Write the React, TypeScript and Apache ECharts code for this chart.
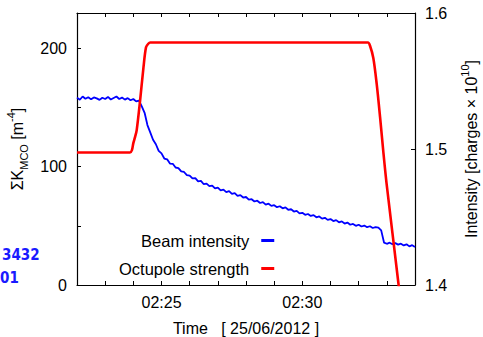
import React, { useEffect, useRef } from "react";
import * as echarts from "echarts";

// time axis in minutes after midnight (02:22 = 142)
const timeMin = 142;
const timeMax = 154;
const timeTickLabels = [145, 150];

// Octupole strength ΣK_MCO [m^-4] : [minutes, value]
const octupoleTimes = [142.0, 143.88, 143.95, 144.0, 144.06, 144.12, 144.24, 144.36, 144.45, 144.53, 144.6, 152.33, 152.4, 152.52, 152.64, 152.76, 152.87, 152.99, 153.41, 153.5];
const octupoleValues = [112, 112, 114, 120, 125, 131, 156, 184, 201, 204, 205, 205, 202.5, 192, 170, 142, 114, 86, 1.7, -19];

// Beam intensity [charges × 1e10], sampled every 0.1 min from 02:22
const beamStart = 142.0;
const beamStep = 0.1;
const beamValues = [
  1.5378, 1.5362, 1.5386, 1.5369, 1.5381, 1.5365, 1.5379, 1.5372, 1.5361, 1.5377,
  1.5368, 1.5383, 1.5364, 1.5375, 1.5386, 1.5368, 1.5378, 1.5363, 1.5374, 1.5358,
  1.5368, 1.5350, 1.5356, 1.5314, 1.5266, 1.5176, 1.5122, 1.5068, 1.5035, 1.4986,
  1.4968, 1.4930, 1.4924, 1.4893, 1.4891, 1.4864, 1.4860, 1.4836, 1.4831, 1.4808,
  1.4805, 1.4784, 1.4786, 1.4762, 1.4765, 1.4741, 1.4746, 1.4727, 1.4731, 1.4710,
  1.4716, 1.4696, 1.4701, 1.4683, 1.4690, 1.4670, 1.4675, 1.4655, 1.4661, 1.4643,
  1.4647, 1.4628, 1.4631, 1.4614, 1.4620, 1.4603, 1.4609, 1.4591, 1.4598, 1.4582,
  1.4587, 1.4572, 1.4579, 1.4564, 1.4571, 1.4553, 1.4557, 1.4540, 1.4545, 1.4527,
  1.4531, 1.4516, 1.4522, 1.4508, 1.4514, 1.4498, 1.4504, 1.4488, 1.4494, 1.4479,
  1.4485, 1.4470, 1.4477, 1.4461, 1.4468, 1.4452, 1.4459, 1.4443, 1.4449, 1.4435,
  1.4443, 1.4430, 1.4437, 1.4425, 1.4432, 1.4419, 1.4426, 1.4422, 1.4402, 1.4312,
  1.4303, 1.4311, 1.4300, 1.4308, 1.4297, 1.4304, 1.4291, 1.4299, 1.4284, 1.4293,
  1.4280,
];

const seriesNames = ["Beam intensity", "Octupole strength"];
const sideLabels = ["3432", "01"];

const FONT = "'Liberation Sans', Arial, Helvetica, sans-serif";

function fmtTime(v: number): string {
  const h = Math.floor(v / 60);
  const m = Math.round(v - h * 60);
  return String(h).padStart(2, "0") + ":" + String(m).padStart(2, "0");
}

export default function App() {
  const ref = useRef<HTMLDivElement>(null);
  useEffect(() => {
    if (!ref.current) return;
    const chart = echarts.init(ref.current, null, { renderer: "svg" });
    const beamData = beamValues.map((v, i) => [+(beamStart + i * beamStep).toFixed(2), v]);
    const octData = octupoleTimes.map((t, i) => [t, octupoleValues[i]]);
    const tickCommon = { show: true, inside: true, length: 4, lineStyle: { color: "#000", width: 1 } };
    chart.setOption({
      animation: false,
      backgroundColor: "#fff",
      grid: { left: 77, right: 68, top: 13, bottom: 52, containLabel: false, outerBoundsMode: "none" },
      xAxis: [
        {
          type: "value",
          min: timeMin,
          max: timeMax,
          interval: 1,
          position: "bottom",
          axisLine: { show: true, lineStyle: { color: "#000", width: 1.2 } },
          axisTick: tickCommon,
          splitLine: { show: false },
          axisLabel: {
            color: "#000",
            fontFamily: FONT,
            fontSize: 16,
            margin: 9,
            formatter: (v: number) => (timeTickLabels.includes(Math.round(v)) ? fmtTime(v) : ""),
          },
          name: "Time\u00a0\u00a0\u00a0[ 25/06/2012 ]",
          nameLocation: "middle",
          nameGap: 35,
          nameTextStyle: { color: "#000", fontFamily: FONT, fontSize: 16 },
        },
        {
          type: "value",
          min: timeMin,
          max: timeMax,
          interval: 1,
          position: "top",
          axisLine: { show: true, lineStyle: { color: "#000", width: 1.2 } },
          axisTick: tickCommon,
          splitLine: { show: false },
          axisLabel: { show: false },
        },
      ],
      yAxis: [
        {
          type: "value",
          min: 0,
          max: 230,
          interval: 50,
          position: "left",
          axisLine: { show: true, lineStyle: { color: "#000", width: 1.2 } },
          axisTick: tickCommon,
          splitLine: { show: false },
          axisLabel: {
            color: "#000",
            fontFamily: FONT,
            fontSize: 16,
            margin: 10,
            showMaxLabel: false,
            formatter: (v: number) => (v % 100 === 0 ? String(v) : ""),
          },
          name: "{a|ΣK}{sub|MCO}{a| [m}{sup|-4}{a|]}",
          nameLocation: "middle",
          nameRotate: 90,
          nameGap: 46,
          nameTextStyle: {
            color: "#000",
            fontFamily: FONT,
            fontSize: 16,
            rich: {
              a: { fontFamily: FONT, fontSize: 16, color: "#000", lineHeight: 24, verticalAlign: "middle" },
              sub: { fontFamily: FONT, fontSize: 11, color: "#000", lineHeight: 11, verticalAlign: "bottom" },
              sup: { fontFamily: FONT, fontSize: 11, color: "#000", lineHeight: 11, verticalAlign: "top" },
            },
          },
        },
        {
          type: "value",
          min: 1.4,
          max: 1.6,
          interval: 0.1,
          position: "right",
          axisLine: { show: true, lineStyle: { color: "#000", width: 1.2 } },
          axisTick: tickCommon,
          splitLine: { show: false },
          axisLabel: {
            color: "#000",
            fontFamily: FONT,
            fontSize: 16,
            margin: 10,
            formatter: (v: number) => v.toFixed(1),
          },
          name: "{a|Intensity [charges × 10}{sup|10}{a|]}",
          nameLocation: "middle",
          nameRotate: 90,
          nameGap: 44,
          nameTextStyle: {
            color: "#000",
            fontFamily: FONT,
            fontSize: 16,
            rich: {
              a: { fontFamily: FONT, fontSize: 16, color: "#000", lineHeight: 24, verticalAlign: "middle" },
              sup: { fontFamily: FONT, fontSize: 11, color: "#000", lineHeight: 11, verticalAlign: "top" },
            },
          },
        },
      ],
      legend: {
        show: true,
        orient: "vertical",
        align: "right",
        left: 114,
        top: 227,
        itemWidth: 13,
        itemHeight: 3,
        itemGap: 11,
        icon: "rect",
        data: seriesNames,
        textStyle: { color: "#000", fontFamily: FONT, fontSize: 16.5, padding: [0, 7, 0, 0] },
      },
      series: [
        {
          name: seriesNames[0],
          type: "line",
          xAxisIndex: 0,
          yAxisIndex: 1,
          data: beamData,
          showSymbol: false,
          symbol: "none",
          clip: true,
          lineStyle: { color: "#0000ff", width: 1.8 },
          itemStyle: { color: "#0000ff" },
          z: 3,
        },
        {
          name: seriesNames[1],
          type: "line",
          xAxisIndex: 0,
          yAxisIndex: 0,
          data: octData,
          smooth: 0.3,
          showSymbol: false,
          symbol: "none",
          clip: true,
          lineStyle: { color: "#ff0000", width: 2.6 },
          itemStyle: { color: "#ff0000" },
          z: 4,
        },
      ],
      graphic: [
        {
          type: "text",
          left: 2,
          top: 247,
          style: { text: sideLabels[0], fill: "#1a1aff", font: "bold 15px 'DejaVu Sans Condensed', 'Liberation Sans', sans-serif" },
        },
        {
          type: "text",
          left: 0,
          top: 270,
          style: { text: sideLabels[1], fill: "#1a1aff", font: "bold 15px 'DejaVu Sans Condensed', 'Liberation Sans', sans-serif" },
        },
      ],
    });
    return () => chart.dispose();
  }, []);
  return <div ref={ref} style={{ width: 483, height: 337, position: "absolute", left: 0, top: 0 }} />;
}
